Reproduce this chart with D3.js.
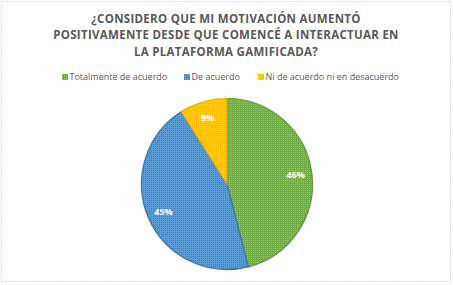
<!DOCTYPE html>
<html>
<head>
<meta charset="utf-8">
<script src="https://cdn.jsdelivr.net/npm/d3@7"></script>
<style>
  html, body { margin: 0; padding: 0; background: #fff; }
  svg { display: block; }
</style>
</head>
<body>
<div id="chart"></div>
<script>
// Chart data
const categories = ['Totalmente de acuerdo', 'De acuerdo', 'Ni de acuerdo ni en desacuerdo'];
const values = [46, 45, 9];
const colors = ['#70AD47', '#5B9BD5', '#FFC000'];
const dotColors = ['#8CCB5E', '#3F7FC8', '#FFD24A'];
const edgeColors = ['#5E9638', '#3D72A8', '#E0A800'];
const titleLines = [
    '¿CONSIDERO QUE MI MOTIVACIÓN AUMENTÓ',
    'POSITIVAMENTE DESDE QUE COMENCÉ A INTERACTUAR EN',
    'LA PLATAFORMA GAMIFICADA?'
];

const width = 453, height = 285;
const svg = d3.select('#chart').append('svg')
    .attr('width', width)
    .attr('height', height);

// textured fills, a bit like the original picture
const defs = svg.append('defs');
colors.forEach((c, i) => {
    const p = defs.append('pattern')
        .attr('id', 'pat' + i)
        .attr('width', 2).attr('height', 2)
        .attr('patternUnits', 'userSpaceOnUse');
    p.append('rect').attr('width', 2).attr('height', 2).attr('fill', c);
    p.append('rect').attr('width', 1).attr('height', 1).attr('fill', dotColors[i]);
});

// dotted frame
svg.append('rect')
    .attr('x', 1.5).attr('y', 1.5)
    .attr('width', 449).attr('height', 280)
    .attr('fill', 'none')
    .attr('stroke', '#BFBFBF')
    .attr('stroke-width', 1)
    .attr('stroke-dasharray', '1,2');

// title
svg.append('g')
    .selectAll('text')
    .data(titleLines)
    .enter()
    .append('text')
    .attr('x', 226)
    .attr('y', (d, i) => 22.5 + i * 16.8)
    .attr('text-anchor', 'middle')
    .attr('font-family', 'Open Sans, sans-serif')
    .attr('font-weight', 'bold')
    .attr('font-size', 11.5)
    .attr('letter-spacing', 0.3)
    .attr('fill', '#595959')
    .text(d => d);

// legend
const legendX = [62, 184, 258];
const legend = svg.append('g')
    .selectAll('g')
    .data(categories)
    .enter()
    .append('g')
    .attr('transform', (d, i) => 'translate(' + legendX[i] + ',77)');
legend.append('rect')
    .attr('x', 0).attr('y', -3)
    .attr('width', 6).attr('height', 6)
    .attr('fill', (d, i) => 'url(#pat' + i + ')');
legend.append('text')
    .attr('x', 7.5)
    .attr('y', 3.3)
    .attr('font-family', 'Open Sans, sans-serif')
    .attr('font-size', 9)
    .attr('fill', '#595959')
    .text(d => d);

// pie
const cx = 227, cy = 184, r = 85.5;
const pie = d3.pie().sort(null).value(d => d);
const arcs = pie(values);
const arc = d3.arc().innerRadius(0).outerRadius(r);
const labelArc = d3.arc().innerRadius(r * 0.81).outerRadius(r * 0.81);

const g = svg.append('g').attr('transform', 'translate(' + cx + ',' + cy + ')');
g.selectAll('path')
    .data(arcs)
    .enter()
    .append('path')
    .attr('d', arc)
    .attr('fill', (d, i) => 'url(#pat' + i + ')')
    .attr('stroke', (d, i) => edgeColors[i])
    .attr('stroke-width', 1.2);

g.selectAll('text.lbl')
    .data(arcs)
    .enter()
    .append('text')
    .attr('class', 'lbl')
    .attr('transform', d => 'translate(' + labelArc.centroid(d) + ')')
    .attr('dy', '0.35em')
    .attr('text-anchor', 'middle')
    .attr('font-family', 'Open Sans, sans-serif')
    .attr('font-weight', 'bold')
    .attr('font-size', 9)
    .attr('fill', '#FFFFFF')
    .text(d => d.data + '%');
</script>
</body>
</html>
